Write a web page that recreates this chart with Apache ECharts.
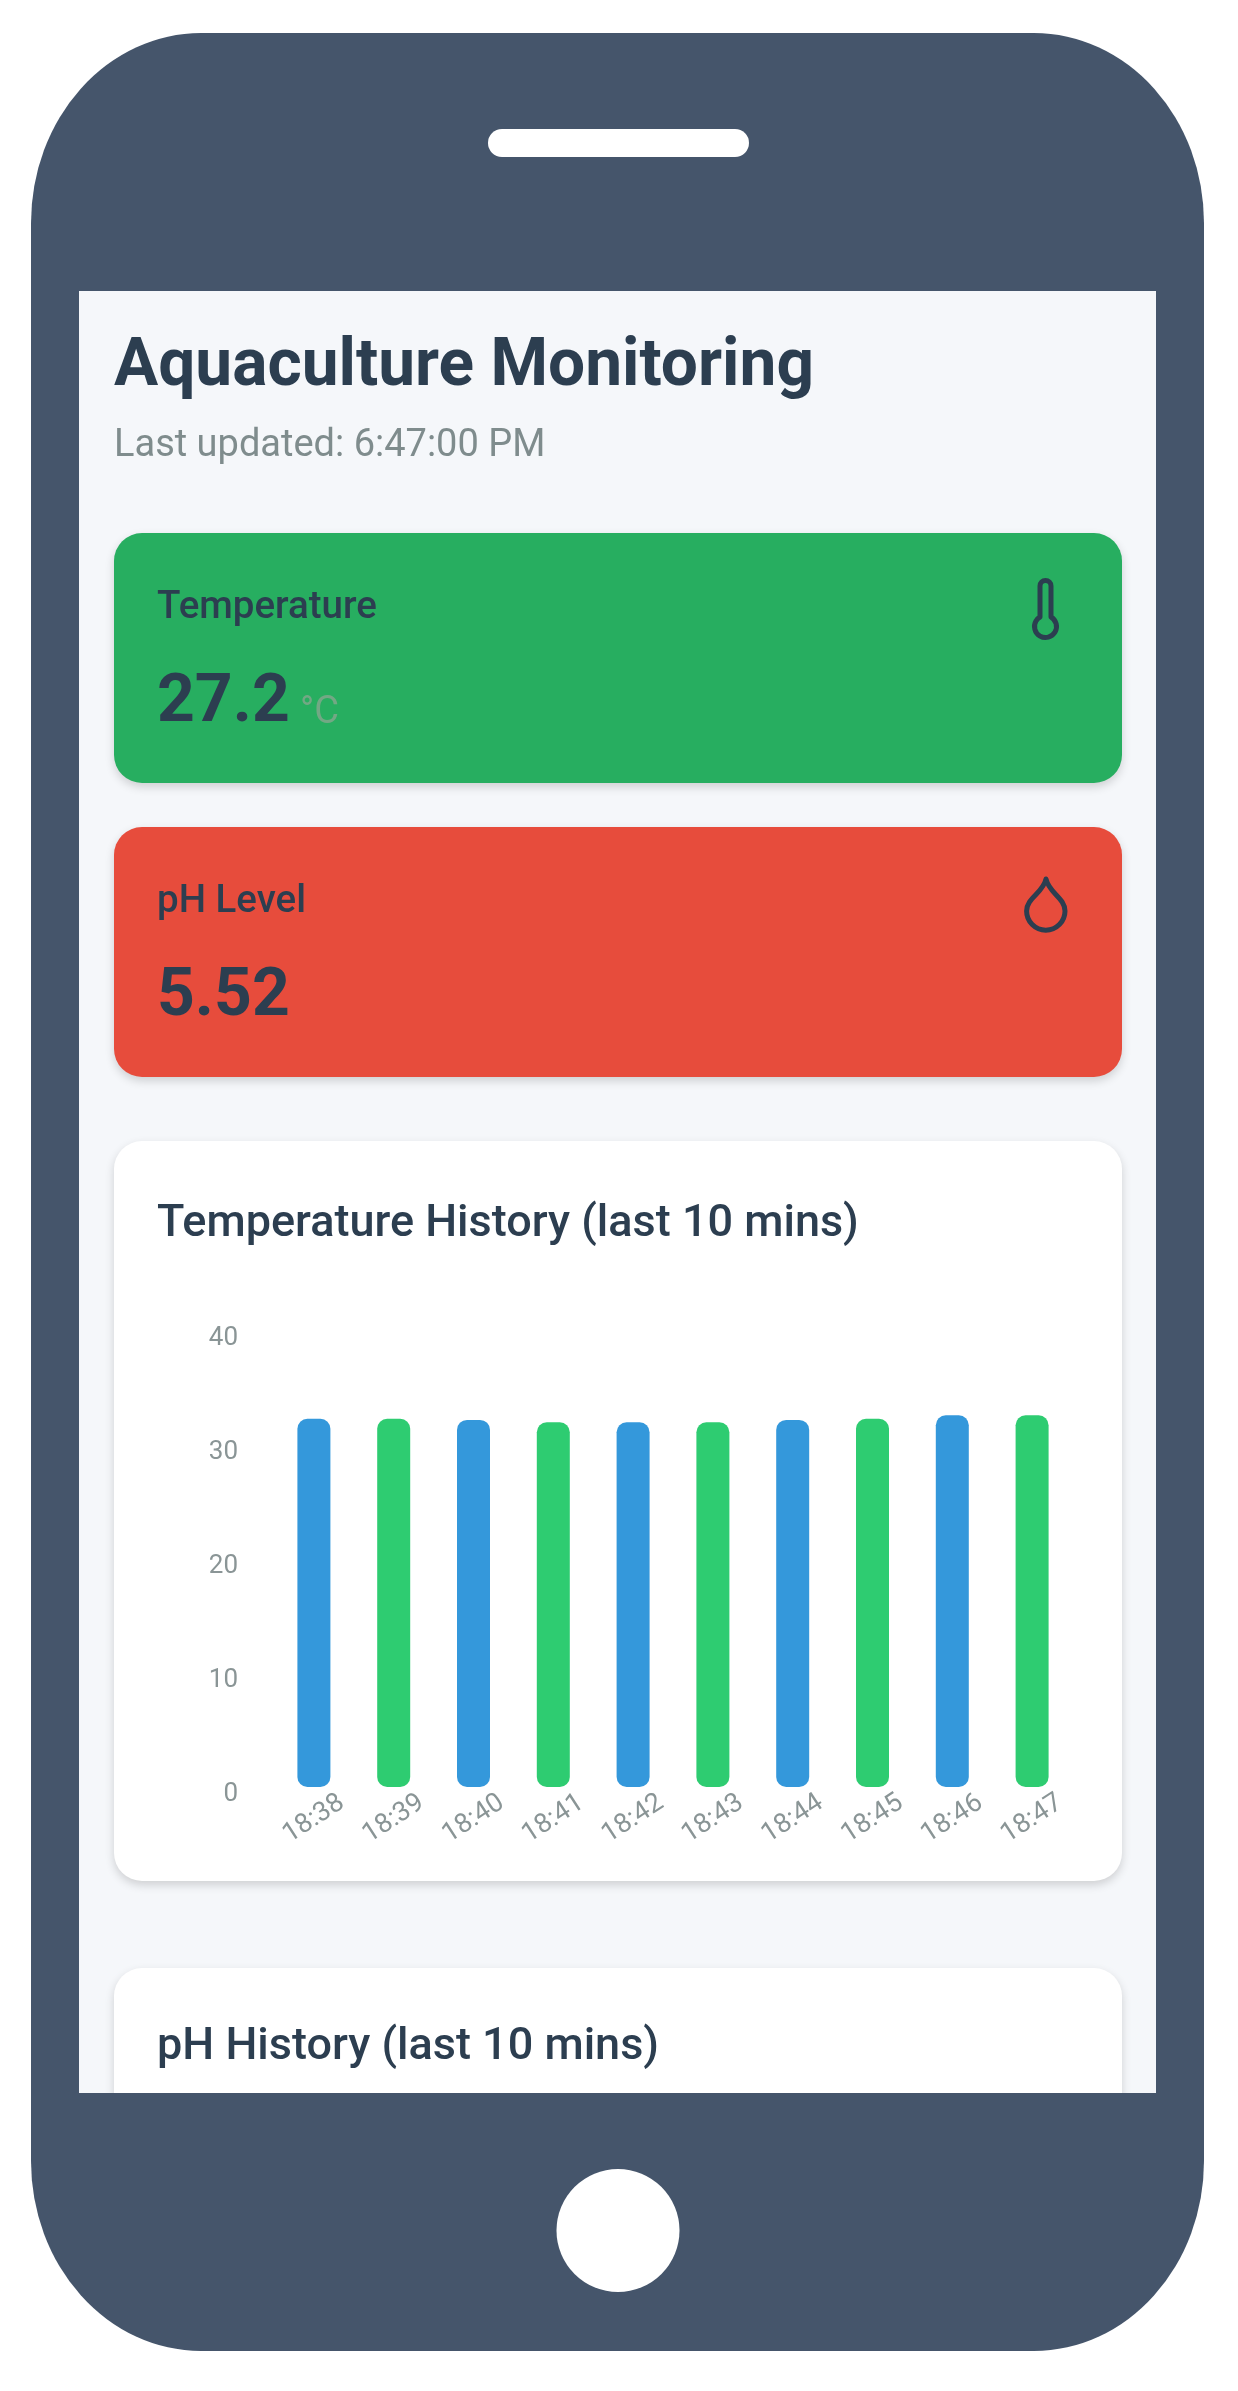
<!DOCTYPE html>
<html>
<head>
<meta charset="utf-8">
<title>Aquaculture Monitoring</title>
<script src="https://cdn.jsdelivr.net/npm/echarts@6/dist/echarts.min.js"></script>
<style>
  html, body { margin: 0; padding: 0; background: #fff; }
  #main { width: 1238px; height: 2391px; }
</style>
</head>
<body>
<div id="main"></div>
<script>
// values
const times = ['18:38', '18:39', '18:40', '18:41', '18:42', '18:43', '18:44', '18:45', '18:46', '18:47'];
const tempHistory = [32.3, 32.3, 32.2, 32.0, 32.0, 32.0, 32.2, 32.3, 32.6, 32.6];
const barColors = ['#3498db', '#2ecc71'];
const yTicks = { min: 0, max: 40, interval: 10 };

const FONT = 'Roboto, sans-serif';
const DARK = '#2c3e50';
const GREY = '#7f8c8d';
const FRAME = '#45556b';

// the graphic component has no plain path type, so register the outlines
const g = echarts.graphic;
g.registerShape('phoneBody', g.extendPath('M201 33 H1034 A170 190 0 0 1 1204 223 V2161 A170 190 0 0 1 1034 2351 ' +
  'H201 A170 190 0 0 1 31 2161 V223 A170 190 0 0 1 201 33 Z', {}));
g.registerShape('thermometer', g.extendPath('M1040 617 V586 a5.5 5.5 0 0 1 11 0 V617 a11 11 0 1 1 -11 0 Z', {}));
g.registerShape('drop', g.extendPath('M1046 879 C1049 893 1065 898 1065 911 A19.2 19.2 0 0 1 1026.6 911 C1026.6 898 1043 893 1046 879 Z', {}));

// text placed by its baseline
function label(text, x, baseline, size, weight, color) {
  return {
    type: 'text',
    z: 5,
    style: {
      text: text,
      x: x,
      y: baseline - 0.83 * size,
      fill: color,
      font: weight + ' ' + size + 'px ' + FONT
    }
  };
}

function card(y, height, color) {
  return {
    type: 'rect',
    z: 1,
    shape: { x: 114, y: y, width: 1008, height: height, r: 28 },
    style: { fill: color, shadowBlur: 10, shadowOffsetY: 4, shadowColor: 'rgba(0,0,0,0.16)' }
  };
}

function icon(shapeName) {
  return {
    type: shapeName,
    z: 5,
    style: { fill: 'none', stroke: DARK, lineWidth: 5, lineJoin: 'round' }
  };
}

const chart = echarts.init(document.getElementById('main'));

var option = {
  backgroundColor: '#fff',
  animation: false,
  graphic: [
    { type: 'phoneBody', z: 0, style: { fill: FRAME } },
    { type: 'rect', z: 0, shape: { x: 488, y: 129, width: 261, height: 28, r: 14 }, style: { fill: '#fff' } },
    { type: 'rect', z: 0, shape: { x: 79, y: 291, width: 1077, height: 1802 }, style: { fill: '#f5f7fa' } },

    label('Aquaculture Monitoring', 114, 390, 65.8, 700, DARK),
    label('Last updated: 6:47:00 PM', 114, 459, 38, 400, GREY),

    card(533, 250, '#27ae60'),
    label('Temperature', 157, 621, 38.5, 500, DARK),
    label('27.2', 157, 726, 66, 700, DARK),
    label('°C', 300, 726, 38, 400, '#72a884'),
    icon('thermometer'),

    card(827, 250, '#e74c3c'),
    label('pH Level', 157, 915, 38.5, 500, DARK),
    label('5.52', 157, 1020, 66, 700, DARK),
    icon('drop'),

    card(1141, 740, '#fff'),
    label('Temperature History (last 10 mins)', 157, 1240, 45, 500, DARK),

    card(1968, 180, '#fff'),
    label('pH History (last 10 mins)', 157, 2063, 45, 500, DARK),

    // lower part of the frame covers the cut off pH card
    { type: 'rect', z: 6, shape: { x: 79, y: 2093, width: 1077, height: 70 }, style: { fill: FRAME } },
    { type: 'circle', z: 6, shape: { cx: 618, cy: 2230.5, r: 61.5 }, style: { fill: '#fff' } }
  ],
  grid: { left: 274, top: 1331, width: 798, height: 456 },
  xAxis: {
    type: 'category',
    z: 3,
    data: times,
    axisLine: { show: false },
    axisTick: { show: false },
    axisLabel: {
      rotate: 33,
      align: 'center',
      verticalAlign: 'middle',
      margin: 32,
      fontFamily: 'Roboto',
      fontSize: 27,
      color: '#8a9596'
    }
  },
  yAxis: {
    type: 'value',
    z: 3,
    min: yTicks.min,
    max: yTicks.max,
    interval: yTicks.interval,
    axisLine: { show: false },
    axisTick: { show: false },
    splitLine: { show: false },
    axisLabel: {
      margin: 36,
      verticalAlign: 'top',
      lineHeight: 14,
      fontFamily: 'Roboto',
      fontSize: 26,
      color: '#8a9596'
    }
  },
  series: [
    {
      type: 'bar',
      barWidth: 33,
      z: 3,
      data: tempHistory.map((v, i) => ({
        value: v,
        itemStyle: { color: barColors[i % 2], borderRadius: 10 }
      }))
    }
  ]
};

chart.setOption(option);
</script>
</body>
</html>
